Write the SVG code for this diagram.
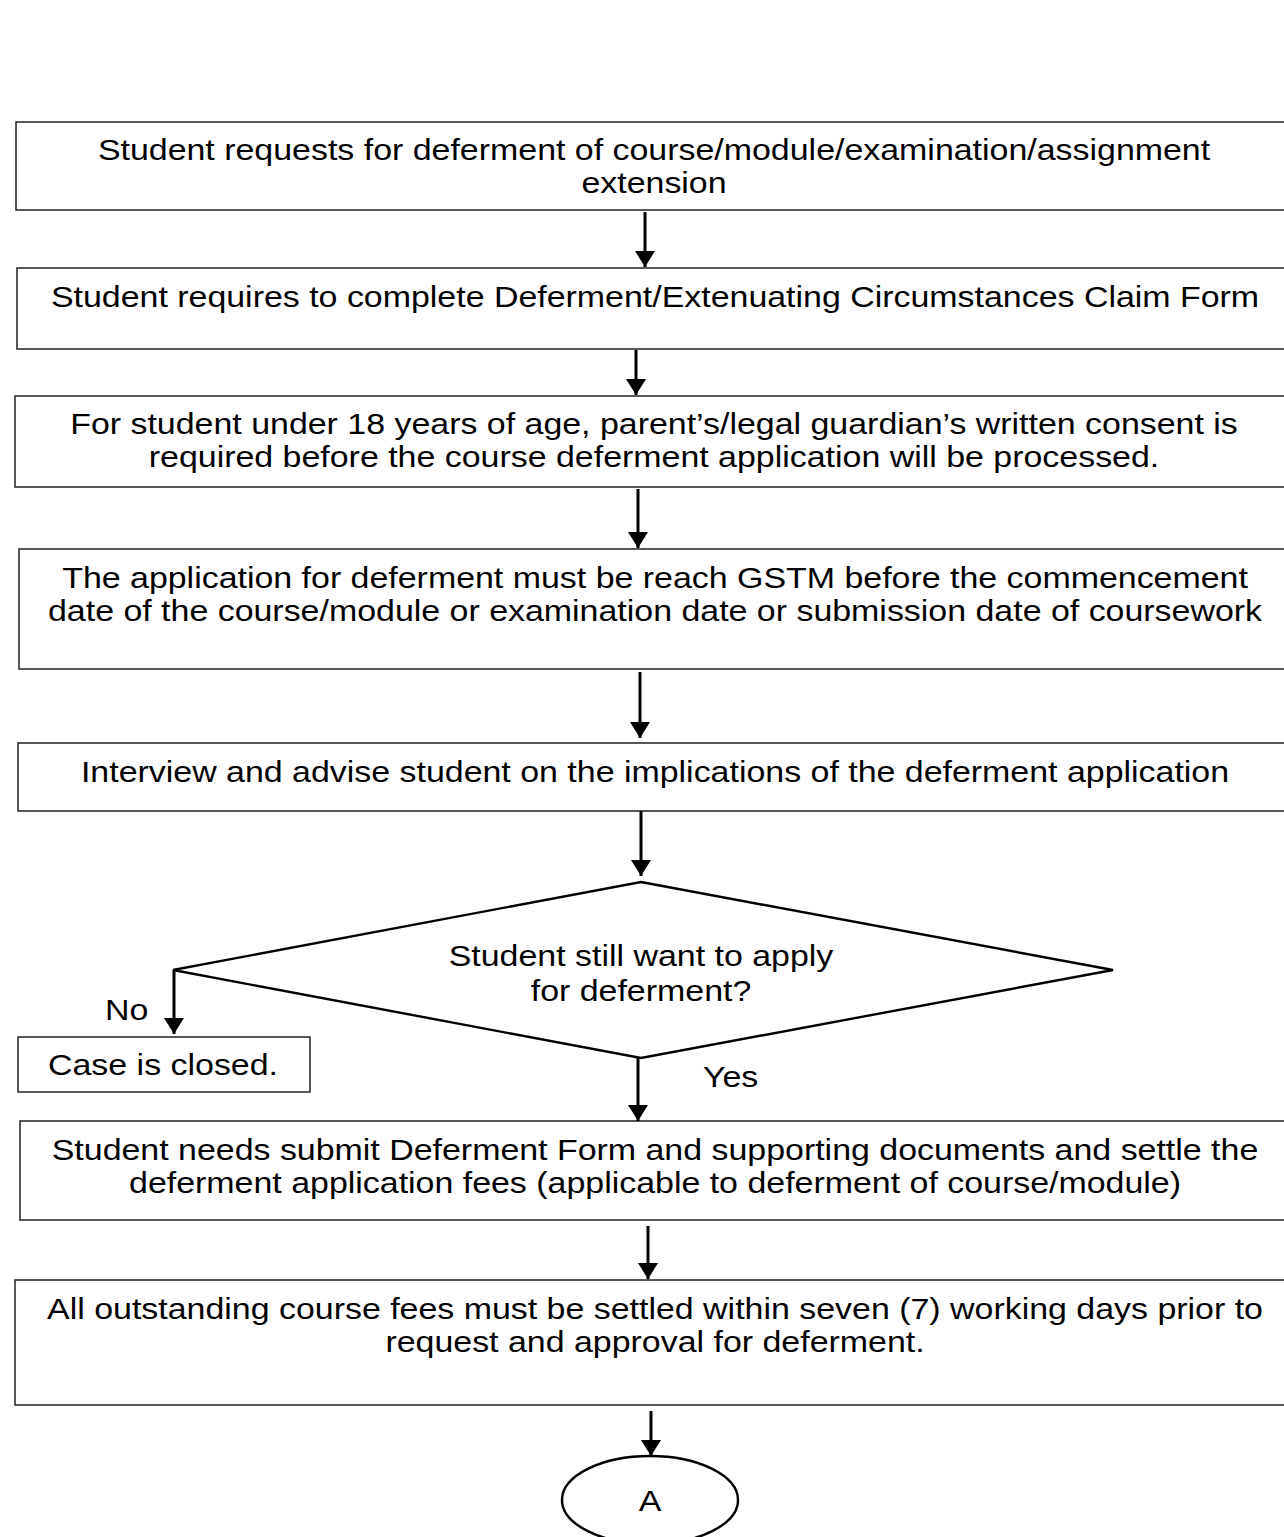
<svg xmlns="http://www.w3.org/2000/svg" width="1284" height="1537" viewBox="0 0 1284 1537">
  <style>
    .box { fill: #ffffff; stroke: #222222; stroke-width: 1.5; }
    .shape { fill: #ffffff; stroke: #000000; stroke-width: 2.4; }
    .txt { font-family: "Liberation Sans", Arial, sans-serif; font-size: 29px; fill: #000000; text-anchor: middle; }
    .lbl { font-family: "Liberation Sans", Arial, sans-serif; font-size: 29px; fill: #000000; }
    .edge { stroke: #000000; stroke-width: 3; fill: none; marker-end: url(#arrow); }
  </style>
  <defs>
    <marker id="arrow" markerWidth="16" markerHeight="20" refX="16" refY="10" orient="auto" markerUnits="userSpaceOnUse" viewBox="0 0 16 20">
      <path d="M0,0 L16,10 L0,20 z" fill="#000000"/>
    </marker>
  </defs>
  <rect width="1284" height="1537" fill="#ffffff"/>

  <!-- text is drawn with a 1.17 horizontal stretch: matrix(1.17,0,0,1,centreX,0) -->
  <g id="n1">
    <rect class="box" x="16" y="122" width="1290" height="88"/>
    <text class="txt" transform="matrix(1.17,0,0,1,654,0)" y="160">Student requests for deferment of course/module/examination/assignment</text>
    <text class="txt" transform="matrix(1.17,0,0,1,654,0)" y="193">extension</text>
  </g>
  <g id="n2">
    <rect class="box" x="17" y="268" width="1290" height="81"/>
    <text class="txt" transform="matrix(1.17,0,0,1,655,0)" y="307">Student requires to complete Deferment/Extenuating Circumstances Claim Form</text>
  </g>
  <g id="n3">
    <rect class="box" x="15" y="396" width="1290" height="91"/>
    <text class="txt" transform="matrix(1.17,0,0,1,654,0)" y="434">For student under 18 years of age, parent’s/legal guardian’s written consent is</text>
    <text class="txt" transform="matrix(1.17,0,0,1,654,0)" y="467">required before the course deferment application will be processed.</text>
  </g>
  <g id="n4">
    <rect class="box" x="19" y="549" width="1290" height="120"/>
    <text class="txt" transform="matrix(1.17,0,0,1,655,0)" y="588">The application for deferment must be reach GSTM before the commencement</text>
    <text class="txt" transform="matrix(1.17,0,0,1,655,0)" y="621">date of the course/module or examination date or submission date of coursework</text>
  </g>
  <g id="n5">
    <rect class="box" x="18" y="743" width="1290" height="68"/>
    <text class="txt" transform="matrix(1.17,0,0,1,655,0)" y="782">Interview and advise student on the implications of the deferment application</text>
  </g>
  <g id="n6">
    <polygon class="shape" points="641,882 1113,970 641,1058 173,970"/>
    <text class="txt" transform="matrix(1.17,0,0,1,641,0)" y="966">Student still want to apply</text>
    <text class="txt" transform="matrix(1.17,0,0,1,641,0)" y="1001">for deferment?</text>
  </g>
  <g id="n7">
    <rect class="box" x="18" y="1037" width="292" height="55"/>
    <text class="txt" transform="matrix(1.17,0,0,1,163,0)" y="1075">Case is closed.</text>
  </g>
  <g id="n8">
    <rect class="box" x="20" y="1121" width="1290" height="99"/>
    <text class="txt" transform="matrix(1.17,0,0,1,655,0)" y="1160">Student needs submit Deferment Form and supporting documents and settle the</text>
    <text class="txt" transform="matrix(1.17,0,0,1,655,0)" y="1193">deferment application fees (applicable to deferment of course/module)</text>
  </g>
  <g id="n9">
    <rect class="box" x="15" y="1280" width="1290" height="125"/>
    <text class="txt" transform="matrix(1.17,0,0,1,655,0)" y="1319">All outstanding course fees must be settled within seven (7) working days prior to</text>
    <text class="txt" transform="matrix(1.17,0,0,1,655,0)" y="1352">request and approval for deferment.</text>
  </g>
  <g id="n10">
    <ellipse class="shape" cx="650" cy="1500" rx="88" ry="44"/>
    <text class="txt" transform="matrix(1.17,0,0,1,650,0)" y="1511">A</text>
  </g>

  <g id="edges">
    <line class="edge" x1="645" y1="212" x2="645" y2="267"/>
    <line class="edge" x1="636" y1="350" x2="636" y2="395"/>
    <line class="edge" x1="638" y1="489" x2="638" y2="548"/>
    <line class="edge" x1="640" y1="672" x2="640" y2="738"/>
    <line class="edge" x1="641" y1="811" x2="641" y2="876"/>
    <line class="edge" x1="174" y1="970" x2="174" y2="1034"/>
    <line class="edge" x1="638" y1="1058" x2="638" y2="1121"/>
    <line class="edge" x1="648" y1="1226" x2="648" y2="1279"/>
    <line class="edge" x1="651" y1="1411" x2="651" y2="1456"/>
    <text class="lbl" transform="matrix(1.17,0,0,1,105,0)" y="1020">No</text>
    <text class="lbl" transform="matrix(1.17,0,0,1,703,0)" y="1087">Yes</text>
  </g>
</svg>
